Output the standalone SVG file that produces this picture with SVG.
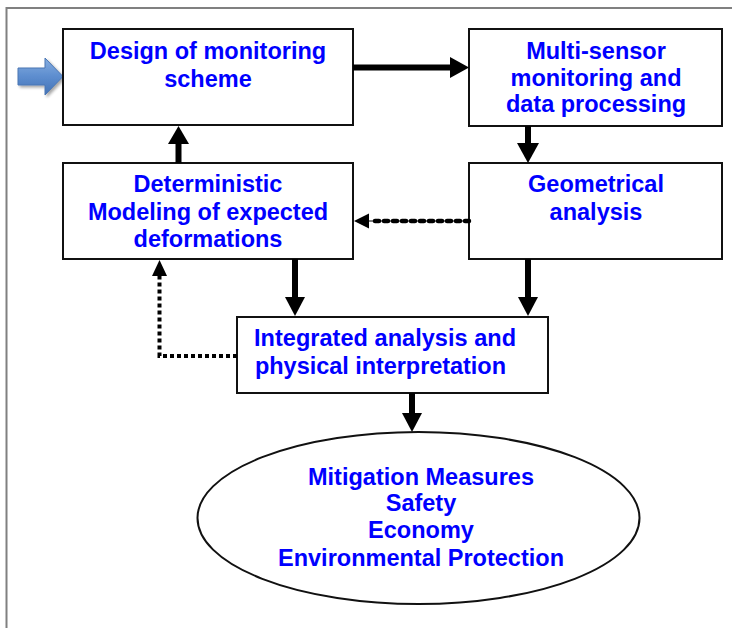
<svg xmlns="http://www.w3.org/2000/svg" width="732" height="628" viewBox="0 0 732 628">
  <style>
    .box { fill: #ffffff; stroke: #111111; stroke-width: 2; }
    .lbl { font-family: "Liberation Sans", Arial, sans-serif; font-weight: bold; font-size: 23.5px; fill: #0000ff; }
    .mid { text-anchor: middle; }
    .shaft { stroke: #000000; stroke-width: 6; fill: none; }
    .head { fill: #000000; }
    .dots { stroke: #000000; stroke-width: 4; fill: none; stroke-dasharray: 4 3; }
    .frame { stroke: #808080; stroke-width: 2; fill: none; }
  </style>
  <defs>
    <linearGradient id="blueFill" x1="0" y1="0" x2="0" y2="1">
      <stop offset="0" stop-color="#86aee0"/>
      <stop offset="0.5" stop-color="#5d8dcf"/>
      <stop offset="1" stop-color="#4373b6"/>
    </linearGradient>
    <filter id="soft" x="-30%" y="-30%" width="160%" height="160%">
      <feGaussianBlur in="SourceAlpha" stdDeviation="1.5"/>
      <feOffset dx="1.5" dy="2" result="sh"/>
      <feComponentTransfer><feFuncA type="linear" slope="0.35"/></feComponentTransfer>
      <feMerge><feMergeNode/><feMergeNode in="SourceGraphic"/></feMerge>
    </filter>
  </defs>

  <rect width="732" height="628" fill="#ffffff"/>
  <!-- page frame -->
  <path class="frame" d="M6.5,628 V8 H732"/>

  <!-- entry arrow -->
  <g id="entry">
    <polygon points="18,68 45,68 45,58 63,76.5 45,95 45,85 18,85" fill="url(#blueFill)" stroke="#4a76b4" stroke-width="1" filter="url(#soft)"/>
  </g>

  <g id="design">
    <rect class="box" x="63" y="29" width="290" height="96"/>
    <text class="lbl mid" x="208" y="59">Design of monitoring</text>
    <text class="lbl mid" x="208" y="87">scheme</text>
  </g>

  <g id="multisensor">
    <rect class="box" x="469" y="29" width="253" height="97"/>
    <text class="lbl mid" x="596" y="59">Multi-sensor</text>
    <text class="lbl mid" x="596" y="86">monitoring and</text>
    <text class="lbl mid" x="596" y="112">data processing</text>
  </g>

  <g id="deterministic">
    <rect class="box" x="63" y="163" width="290" height="96"/>
    <text class="lbl mid" x="208" y="192">Deterministic</text>
    <text class="lbl mid" x="208" y="220">Modeling of expected</text>
    <text class="lbl mid" x="208" y="247">deformations</text>
  </g>

  <g id="geometrical">
    <rect class="box" x="469" y="163" width="253" height="96"/>
    <text class="lbl mid" x="596" y="192">Geometrical</text>
    <text class="lbl mid" x="596" y="220">analysis</text>
  </g>

  <g id="integrated">
    <rect class="box" x="237" y="317" width="311" height="76"/>
    <text class="lbl" x="254" y="346" textLength="262" lengthAdjust="spacing">Integrated analysis and</text>
    <text class="lbl" x="255" y="374" textLength="251" lengthAdjust="spacing">physical interpretation</text>
  </g>

  <g id="mitigation">
    <ellipse class="box" cx="418.5" cy="518" rx="221" ry="86"/>
    <text class="lbl mid" x="421" y="485" textLength="226" lengthAdjust="spacing">Mitigation Measures</text>
    <text class="lbl mid" x="421" y="511">Safety</text>
    <text class="lbl mid" x="421" y="538">Economy</text>
    <text class="lbl mid" x="421" y="566" textLength="286" lengthAdjust="spacing">Environmental Protection</text>
  </g>

  <g id="connectors">
    <!-- design -> multi-sensor -->
    <line class="shaft" x1="353" y1="67.5" x2="452" y2="67.5"/>
    <polygon class="head" points="450,57 469,67.5 450,78"/>
    <!-- multi-sensor -> geometrical -->
    <line class="shaft" x1="528" y1="126" x2="528" y2="145"/>
    <polygon class="head" points="517,143 539,143 528,163"/>
    <!-- deterministic -> design -->
    <line class="shaft" x1="178.5" y1="163" x2="178.5" y2="142"/>
    <polygon class="head" points="168,144 189,144 178.5,126"/>
    <!-- geometrical -> deterministic (dotted) -->
    <line x1="368" y1="221" x2="469" y2="221" stroke="#000" stroke-width="1"/>
    <line x1="469" y1="221" x2="370" y2="221" stroke="#000" stroke-width="4.5" stroke-dasharray="4 5" stroke-linecap="round"/>
    <polygon class="head" points="369,213.5 369,228.5 354,221"/>
    <!-- deterministic -> integrated -->
    <line class="shaft" x1="295" y1="259" x2="295" y2="299"/>
    <polygon class="head" points="285,297 305,297 295,316"/>
    <!-- geometrical -> integrated -->
    <line class="shaft" x1="528" y1="259" x2="528" y2="299"/>
    <polygon class="head" points="518,297 538,297 528,316"/>
    <!-- integrated -> deterministic (dotted feedback) -->
    <path class="dots" d="M237,356 H159.5 V275"/>
    <polygon class="head" points="152,276 167,276 159.5,260"/>
    <!-- integrated -> mitigation -->
    <line class="shaft" x1="412" y1="393" x2="412" y2="415"/>
    <polygon class="head" points="402,413 422,413 412,432"/>
  </g>
</svg>
